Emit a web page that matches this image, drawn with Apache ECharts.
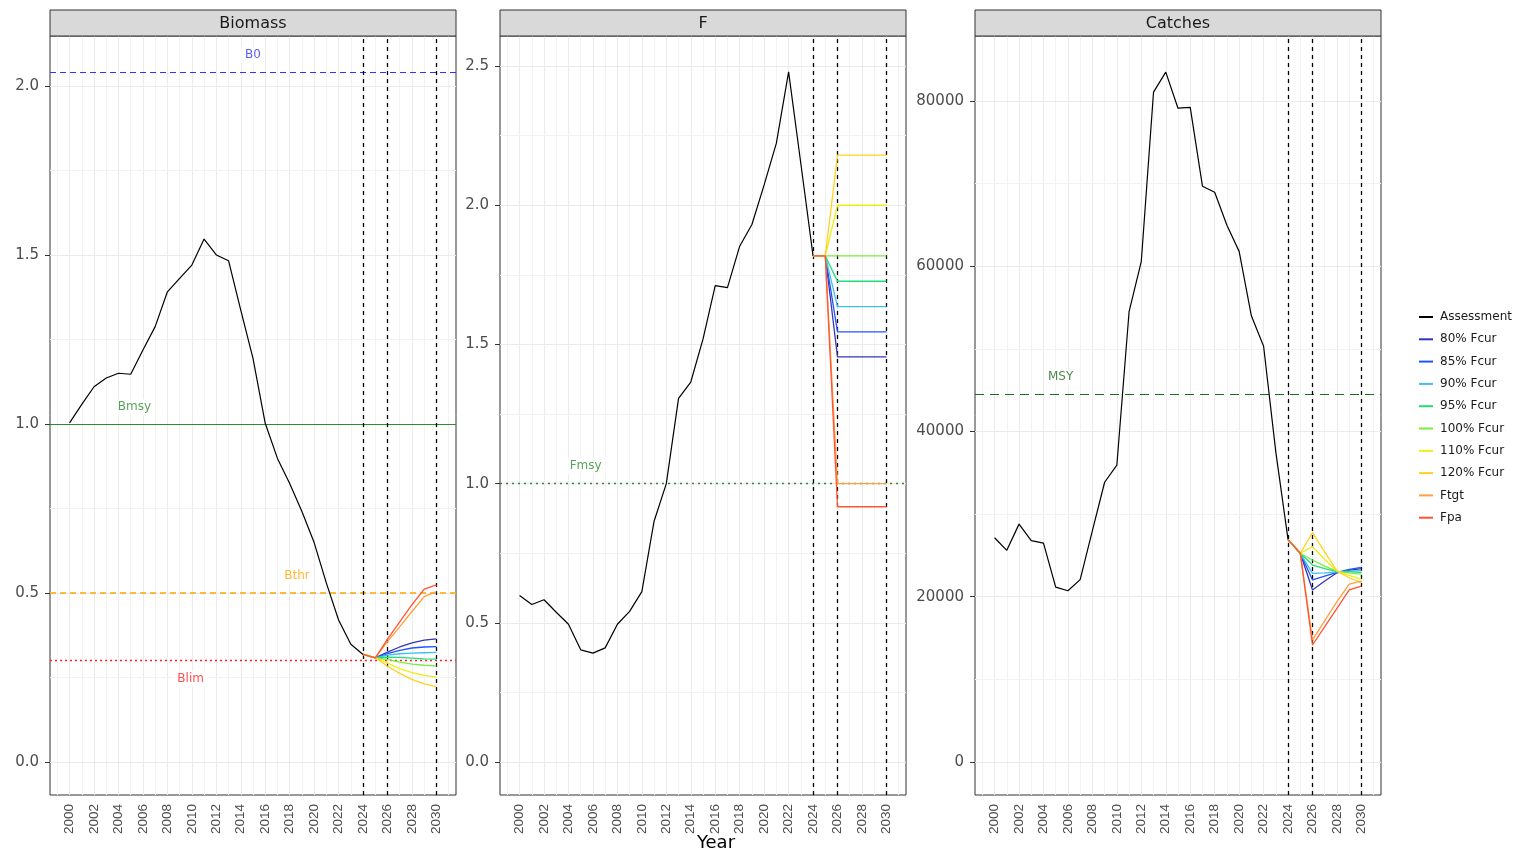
<!DOCTYPE html>
<html><head><meta charset="utf-8">
<script src="https://cdn.jsdelivr.net/npm/echarts@6/dist/echarts.min.js"></script>
<style>html,body{margin:0;padding:0;background:#fff}#c{width:1516px;height:856px}</style>
</head><body><div id="c"></div>
<script>
// ---------- DATA ----------
const assessYears = [2000,2001,2002,2003,2004,2005,2006,2007,2008,2009,2010,2011,2012,2013,2014,2015,2016,2017,2018,2019,2020,2021,2022,2023,2024];
const biomassAssess = [1.003,1.058,1.110,1.136,1.150,1.147,1.219,1.288,1.391,1.431,1.470,1.547,1.500,1.483,1.337,1.194,1.002,0.898,0.824,0.741,0.649,0.529,0.420,0.348,0.318];
const fAssess = [0.598,0.566,0.583,0.538,0.495,0.403,0.391,0.410,0.495,0.541,0.612,0.865,1.000,1.306,1.365,1.519,1.711,1.704,1.853,1.931,2.073,2.223,2.479,2.150,1.818];
const catchAssess = [27140,25620,28790,26790,26490,21160,20730,22070,28000,33860,35940,54500,60600,81080,83500,79130,79220,69690,68950,64970,61800,54000,50320,37500,26920];

const projYears = [2024,2025,2026,2027,2028,2029,2030];
const scenarioNames = ['80% Fcur','85% Fcur','90% Fcur','95% Fcur','100% Fcur','110% Fcur','120% Fcur','Ftgt','Fpa'];
const biomassProj = [
  [0.318,0.308,0.325,0.340,0.352,0.360,0.364],
  [0.318,0.308,0.320,0.330,0.337,0.340,0.341],
  [0.318,0.308,0.316,0.320,0.322,0.323,0.324],
  [0.318,0.308,0.310,0.309,0.307,0.305,0.304],
  [0.318,0.308,0.303,0.295,0.289,0.286,0.284],
  [0.318,0.308,0.292,0.276,0.264,0.256,0.251],
  [0.318,0.308,0.283,0.262,0.244,0.231,0.223],
  [0.318,0.308,0.356,0.400,0.445,0.489,0.504],
  [0.318,0.308,0.363,0.414,0.465,0.511,0.524]
];
const fProj = [
  [1.818,1.818,1.455,1.455,1.455,1.455,1.455],
  [1.818,1.818,1.545,1.545,1.545,1.545,1.545],
  [1.818,1.818,1.636,1.636,1.636,1.636,1.636],
  [1.818,1.818,1.727,1.727,1.727,1.727,1.727],
  [1.818,1.818,1.818,1.818,1.818,1.818,1.818],
  [1.818,1.818,2.000,2.000,2.000,2.000,2.000],
  [1.818,1.818,2.180,2.180,2.180,2.180,2.180],
  [1.818,1.818,1.000,1.000,1.000,1.000,1.000],
  [1.818,1.818,0.917,0.917,0.917,0.917,0.917]
];
const catchProj = [
  [26920,25260,20817,21900,22900,23200,23400],
  [26920,25260,22030,22500,22950,23300,23550],
  [26920,25260,22830,22900,23000,23100,23150],
  [26920,25260,23840,23400,23050,23000,22950],
  [26920,25260,24450,23700,23100,22900,22750],
  [26920,25260,26060,24500,23100,22600,22100],
  [26920,25260,27760,25400,23100,22300,21700],
  [26920,25260,14770,17100,19400,21540,21900],
  [26920,25260,14160,16380,18600,20820,21300]
];

const panelTitles = ['Biomass','F','Catches'];
const xTickYears = [2000,2002,2004,2006,2008,2010,2012,2014,2016,2018,2020,2022,2024,2026,2028,2030];
const xGridYears = [1999,2000,2001,2002,2003,2004,2005,2006,2007,2008,2009,2010,2011,2012,2013,2014,2015,2016,2017,2018,2019,2020,2021,2022,2023,2024,2025,2026,2027,2028,2029,2030,2031];
const biomassTicks = [0,0.5,1,1.5,2];
const fTicks = [0,0.5,1,1.5,2,2.5];
const catchTicks = [0,20000,40000,60000,80000];
const biomassMinor = [0.25,0.75,1.25,1.75];
const fMinor = [0.25,0.75,1.25,1.75,2.25];
const catchMinor = [10000,30000,50000,70000];
const markerYears = [2024,2026,2030];

const refB0 = 2.04, refBmsy = 1.0, refBthr = 0.5, refBlim = 0.3, refFmsy = 1.0, refMSY = 44500;
const labB0 = [2015.0, 2.092], labBmsy = [2005.3, 1.050], labBthr = [2018.6, 0.550], labBlim = [2009.9, 0.246];
const labFmsy = [2005.4, 1.063], labMSY = [2005.4, 46600];

// ---------- STYLE ----------
const colors = ['#3535B8','#1E55FF','#3FBEF0','#22DD77','#77EE44','#EEEE10','#FFD21F','#FFA040','#FF5533'];
const FONT = 'DejaVu Sans, Liberation Sans, sans-serif';
const FONT2 = 'Liberation Sans, Arial, sans-serif';
const gridLefts = [50,500,975];
const GW = 406, GTOP = 36, GH = 759;
const yRanges = [[-0.098,2.148],[-0.1185,2.608],[-3994,87867]];
const yTicksAll = [biomassTicks,fTicks,catchTicks];
const yMinorAll = [biomassMinor,fMinor,catchMinor];
const yFmt = [v=>v.toFixed(1), v=>v.toFixed(1), v=>String(v)];

const chart = echarts.init(document.getElementById('c'), null, {renderer:'canvas'});

const grids = [], xAxes = [], yAxes = [], series = [], graphics = [];
for (let i=0;i<3;i++){
  grids.push({left:gridLefts[i], top:GTOP, width:GW, height:GH, show:true, backgroundColor:'#fff', borderColor:'#333333', borderWidth:1, containLabel:false});
  xAxes.push({type:'value', gridIndex:i, min:1998.4, max:2031.6,
    axisLine:{show:false}, splitLine:{show:false},
    axisTick:{show:true, length:5, lineStyle:{color:'#333'}, customValues:xTickYears},
    axisLabel:{show:true, rotate:90, fontSize:13.5, color:'#4D4D4D', fontFamily:FONT2, margin:9, customValues:xTickYears, formatter:v=>String(v)}
  });
  yAxes.push({type:'value', gridIndex:i, min:yRanges[i][0], max:yRanges[i][1],
    axisLine:{show:false}, splitLine:{show:false},
    axisTick:{show:true, length:5, lineStyle:{color:'#333'}, customValues:yTicksAll[i]},
    axisLabel:{show:true, fontSize:15, color:'#4D4D4D', fontFamily:FONT, margin:11, customValues:yTicksAll[i], formatter:yFmt[i]}
  });
  const gl = [];
  xGridYears.forEach(y=>gl.push({xAxis:y, lineStyle:{color: y%2===0?'#EBEBEB':'#F2F2F2', width:1, type:'solid'}}));
  yTicksAll[i].forEach(v=>gl.push({yAxis:v, lineStyle:{color:'#EBEBEB', width:1, type:'solid'}}));
  yMinorAll[i].forEach(v=>gl.push({yAxis:v, lineStyle:{color:'#F2F2F2', width:1, type:'solid'}}));
  series.push({name:'_grid'+i, type:'line', xAxisIndex:i, yAxisIndex:i, data:[], silent:true, z:1,
    markLine:{z:1, silent:true, symbol:['none','none'], animation:false, label:{show:false}, emphasis:{disabled:true}, data:gl}});
  graphics.push({type:'rect', shape:{x:gridLefts[i], y:10, width:GW, height:26}, style:{fill:'#D9D9D9', stroke:'#333333', lineWidth:1}, z:10});
  graphics.push({type:'text', x:gridLefts[i]+GW/2, y:24, style:{text:panelTitles[i], font:'16px '+FONT, fill:'#1A1A1A', textAlign:'center', textVerticalAlign:'middle'}, z:11});
}

const refDefs = [
  [0, [{yAxis:refB0, lineStyle:{color:'#3333FF', width:1.2, type:[6,4]}},
       {yAxis:refBmsy, lineStyle:{color:'#2E8B2E', width:1.2, type:'solid'}},
       {yAxis:refBthr, lineStyle:{color:'#FFA500', width:1.5, type:[6,4]}},
       {yAxis:refBlim, lineStyle:{color:'#FF2222', width:1.4, type:[2,3]}}]],
  [1, [{yAxis:refFmsy, lineStyle:{color:'#2E8B2E', width:1.4, type:[2,4]}}]],
  [2, [{yAxis:refMSY, lineStyle:{color:'#1E6B1E', width:1.2, type:[9,6]}}]]
];
refDefs.forEach(([i,d])=>{
  markerYears.forEach(y=>d.push({xAxis:y, lineStyle:{color:'#000', width:1.3, type:[4,4]}}));
  series.push({name:'_ref'+i, type:'line', xAxisIndex:i, yAxisIndex:i, data:[], silent:true, z:3,
    markLine:{z:3, silent:true, symbol:['none','none'], animation:false, label:{show:false}, emphasis:{disabled:true}, data:d}});
});

const assessAll = [biomassAssess, fAssess, catchAssess];
const projAll = [biomassProj, fProj, catchProj];
for (let i=0;i<3;i++){
  series.push({name:'Assessment', type:'line', xAxisIndex:i, yAxisIndex:i, color:'#000000', showSymbol:false, symbol:'none',
    lineStyle:{width:1.2, color:'#000000'}, z:4, animation:false,
    data: assessYears.map((y,k)=>[y, assessAll[i][k]])});
  scenarioNames.forEach((nm,s)=>{
    series.push({name:nm, type:'line', xAxisIndex:i, yAxisIndex:i, color:colors[s], showSymbol:false, symbol:'none',
      lineStyle:{width:1.3, color:colors[s]}, z:4, animation:false,
      data: projYears.map((y,k)=>[y, projAll[i][s][k]])});
  });
}

function labelSeries(i, items){
  return {name:'_lab'+i, type:'scatter', xAxisIndex:i, yAxisIndex:i, symbolSize:2, itemStyle:{color:'rgba(0,0,0,0)'}, silent:true, z:6, animation:false,
    label:{show:true, position:'inside', formatter:p=>p.name, fontSize:12, fontFamily:FONT, backgroundColor:'#FFFFFF', padding:[2,4]},
    data: items.map(([nm,pos,col])=>({name:nm, value:pos, label:{color:col}}))};
}
series.push(labelSeries(0, [['B0',labB0,'#3333FF'],['Bmsy',labBmsy,'#2E8B2E'],['Bthr',labBthr,'#FFA500'],['Blim',labBlim,'#FF2222']]));
series.push(labelSeries(1, [['Fmsy',labFmsy,'#2E8B2E']]));
series.push(labelSeries(2, [['MSY',labMSY,'#1E6B1E']]));

graphics.push({type:'text', x:716, y:843, style:{text:'Year', font:'18px '+FONT, fill:'#000', textAlign:'center', textVerticalAlign:'middle'}});

chart.setOption({
  animation:false,
  backgroundColor:'#FFFFFF',
  grid:grids, xAxis:xAxes, yAxis:yAxes, series:series, graphic:graphics,
  legend:{orient:'vertical', left:1414, top:305, icon:'rect', itemWidth:14, itemHeight:2, itemGap:8.3, selectedMode:false,
    textStyle:{fontSize:12, color:'#1A1A1A', fontFamily:FONT, lineHeight:14, padding:[0,0,0,2]},
    data:['Assessment'].concat(scenarioNames)}
});
</script></body></html>
